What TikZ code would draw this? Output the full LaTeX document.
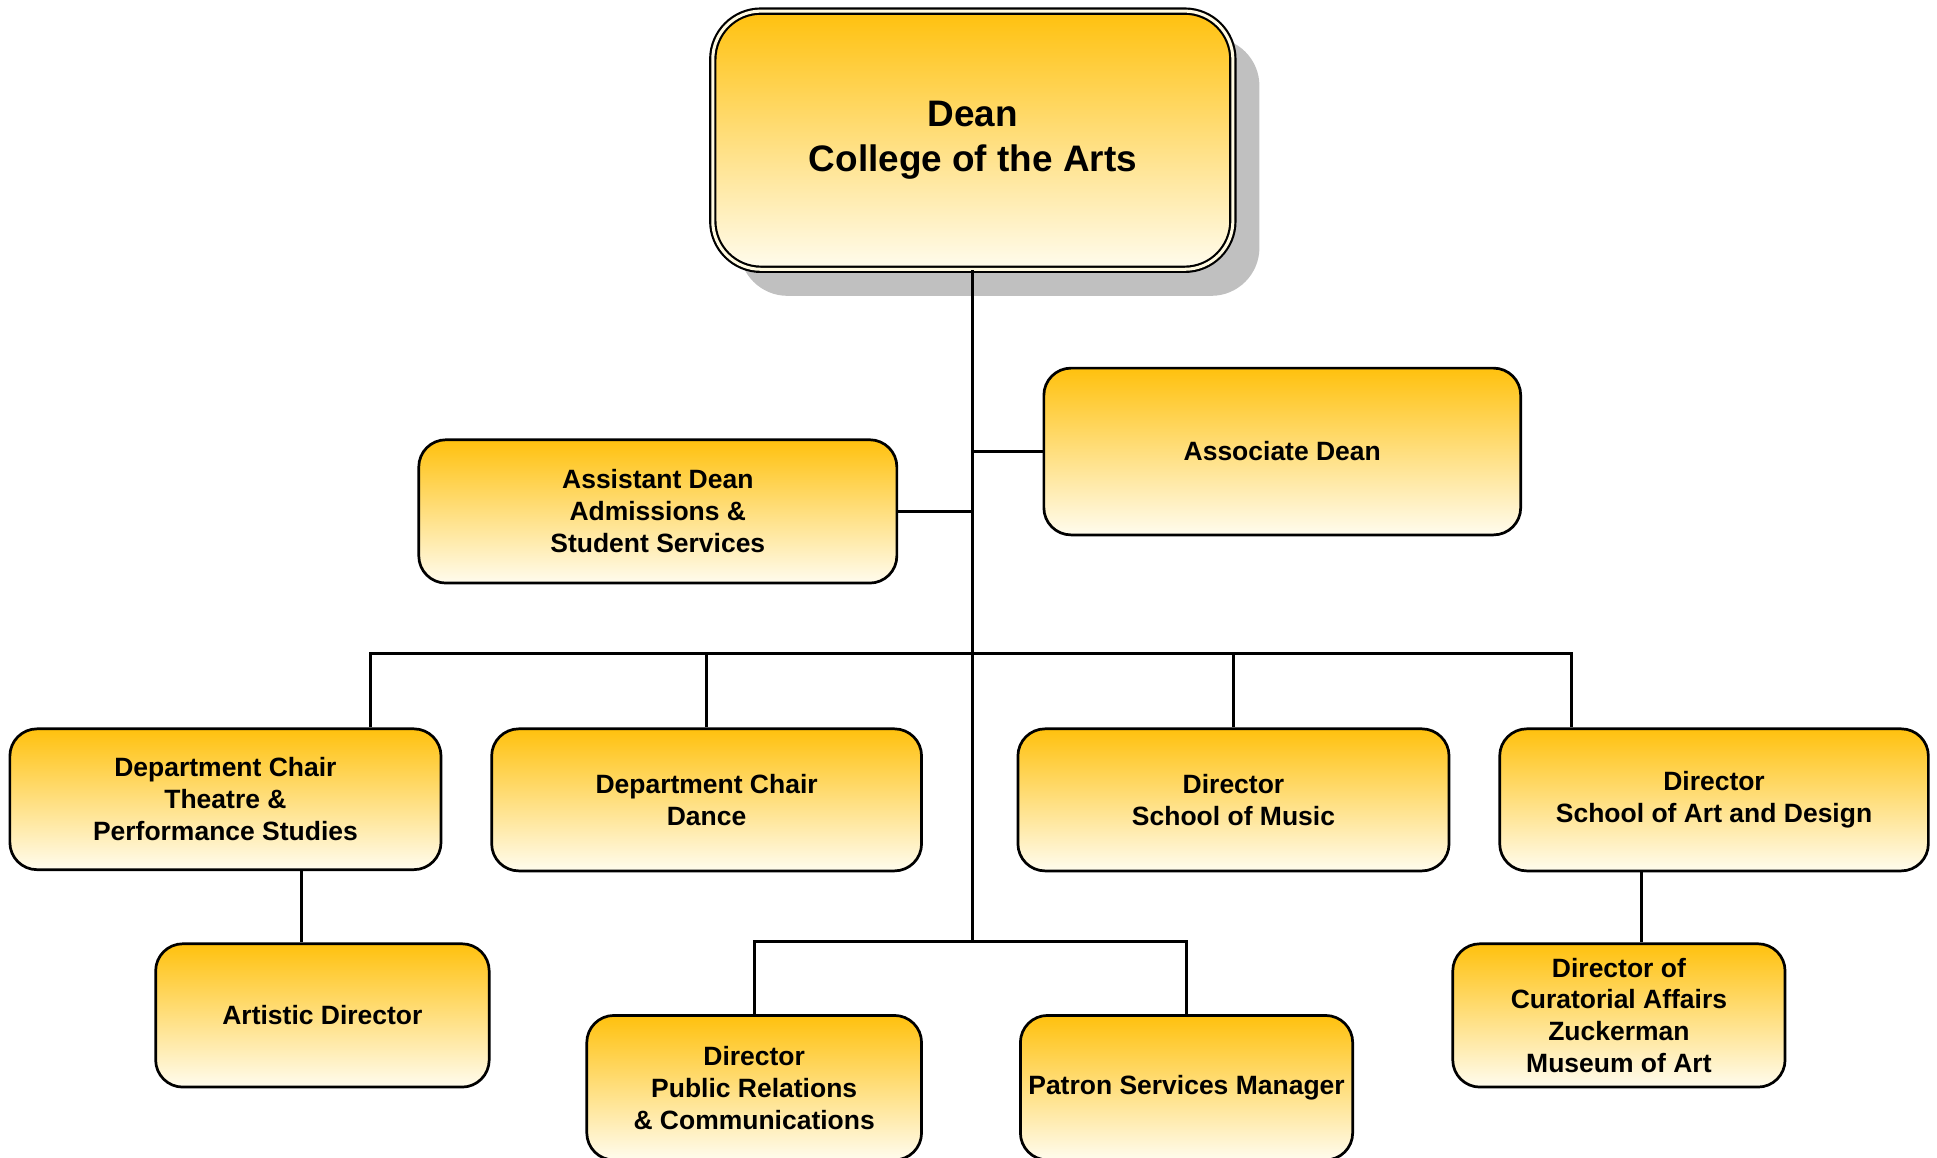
\documentclass[tikz,border=0pt]{standalone}
\usepackage{fontspec}
\setmainfont{Liberation Sans}
\usetikzlibrary{calc,shadows}
\definecolor{gtop}{RGB}{255,193,14}
\definecolor{gbot}{RGB}{255,252,238}
\definecolor{shadowgray}{RGB}{192,192,192}
\definecolor{cream}{RGB}{255,250,225}
\begin{document}
\begin{tikzpicture}[x=0.02cm,y=-0.02cm,
  orgbox/.style={draw, line width=1.25pt, rounded corners=0.44cm, top color=gtop, bottom color=gbot,
    align=center, inner sep=0pt, font=\fontsize{12.2}{14.7}\selectfont\bfseries},
  bsize/.style 2 args={minimum width=#1*0.02cm, minimum height=#2*0.02cm},
  link/.style={line width=1.35pt}]
\useasboundingbox (0,0) rectangle (1568,937.4);

% Dean
\node[orgbox, bsize={421}{209}, rounded corners=0.78cm, line width=1pt,
  double=cream, double distance=1.4pt,
  drop shadow={shadow xshift=0.43cm, shadow yshift=-0.43cm, fill=shadowgray, opacity=1},
  font=\fontsize{17}{20.4}\selectfont\bfseries] (dean) at (787.5,113.5) {Dean\\College of the Arts};

\node[orgbox, bsize={386}{135}] (assoc) at (1038,365.5) {Associate Dean};
\node[orgbox, bsize={387}{116}] (asst) at (532.5,414) {Assistant Dean\\Admissions \&\\Student Services};

\node[orgbox, bsize={349}{114}] (theatre) at (182.5,647) {Department Chair\\Theatre \&\\Performance Studies};
\node[orgbox, bsize={348}{115}] (dance) at (572,647.5) {Department Chair\\Dance};
\node[orgbox, bsize={349}{115}] (music) at (998.5,647.5) {Director\\School of Music};
\node[orgbox, bsize={347}{115}] (art) at (1387.5,647.5) {Director\\School of Art and Design};

\node[orgbox, bsize={270}{116}] (artistic) at (261,822) {Artistic Director};
\node[orgbox, bsize={271}{117}] (pr) at (610.5,880.5) {Director\\Public Relations\\\& Communications};
\node[orgbox, bsize={269}{117}] (patron) at (960.5,880.5) {Patron Services Manager};
\node[orgbox, bsize={269}{116}] (curat) at (1310.5,822) {Director of\\Curatorial Affairs\\Zuckerman\\Museum of Art};

% connector coordinates
\coordinate (lowbus) at (787,762);
\coordinate (bl) at (300,529);
\coordinate (br) at (1272,529);
\coordinate (ta) at (244,0);
\coordinate (ca) at (1329,0);

\draw[link] (dean.south) -- (dean.south |- lowbus);
\draw[link] (assoc.west) -- (assoc.west -| dean.south);
\draw[link] (asst.east) -- (asst.east -| dean.south);
\draw[link] (bl |- theatre.north) -- (bl) -- (br) -- (br |- art.north);
\draw[link] (dance.north) -- (dance.north |- bl);
\draw[link] (music.north) -- (music.north |- bl);
\draw[link] (ta |- theatre.south) -- (ta |- artistic.north);
\draw[link] (ca |- art.south) -- (ca |- curat.north);
\draw[link] (pr.north) |- (lowbus) -| (patron.north);
\end{tikzpicture}
\end{document}
